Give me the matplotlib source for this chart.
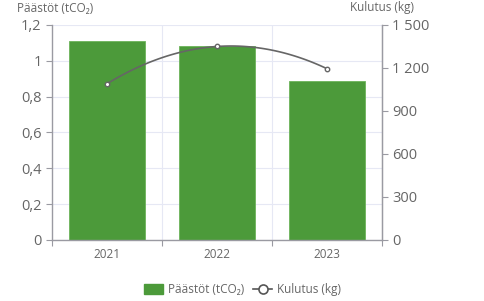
import numpy as np
import matplotlib.pyplot as plt
from matplotlib.lines import Line2D
from matplotlib.patches import Patch

plt.rcParams['font.family'] = ['Open Sans', 'DejaVu Sans']

years = ['2021', '2022', '2023']
emissions = [1.11, 1.08, 0.89]       # tCO2
consumption = [1090, 1350, 1195]     # kg

left_ticks = [0, 0.2, 0.4, 0.6, 0.8, 1.0, 1.2]
left_labels = ['0', '0,2', '0,4', '0,6', '0,8', '1', '1,2']
right_ticks = [0, 300, 600, 900, 1200, 1500]
right_labels = ['0', '300', '600', '900', '1 200', '1 500']

green = '#4c9a3a'
axis_col = '#9a9aa2'
grid_col = '#e6e8f4'
txt = '#666666'

fig = plt.figure(figsize=(4.85, 3.01), dpi=100)
ax = fig.add_axes([0.1072, 0.2027, 0.6804, 0.7143])
x = np.arange(len(years))

ax.bar(x, emissions, width=0.69, color=green, edgecolor='#6cb35a', linewidth=0.6, zorder=2)
ax.set_xlim(-0.5, 2.5)
ax.set_ylim(0, 1.2)
ax.set_yticks(left_ticks)
ax.set_yticklabels(left_labels)
ax.set_xticks(x)
ax.set_xticklabels(years)
ax.tick_params(axis='x', length=0, labelsize=8.5, colors=txt, pad=6)
ax.tick_params(axis='y', length=4, labelsize=10.5, colors=txt, width=0.8)
ax.tick_params(axis='y', color=axis_col)
ax.set_xticks([-0.5, 0.5, 1.5, 2.5], minor=True)
ax.tick_params(axis='x', which='minor', length=4, color=axis_col, width=0.8)
ax.grid(axis='y', color=grid_col, linewidth=0.8, zorder=0)
for b in [0.5, 1.5]:
    ax.axvline(b, color=grid_col, linewidth=0.8, zorder=0)
ax.spines['top'].set_visible(False)
for s in ['left', 'bottom', 'right']:
    ax.spines[s].set_color(axis_col)
    ax.spines[s].set_linewidth(1.0)

ax2 = ax.twinx()
ax2.set_ylim(0, 1500)
ax2.set_yticks(right_ticks)
ax2.set_yticklabels(right_labels)
ax2.tick_params(axis='y', length=4, labelsize=10.5, colors=txt, color=axis_col, width=0.8)
for s in ['top', 'left', 'bottom']:
    ax2.spines[s].set_visible(False)
ax2.spines['right'].set_color(axis_col)

# smooth curve through the points
coef = np.polyfit(x, consumption, 2)
xs = np.linspace(0, 2, 100)
ax2.plot(xs, np.polyval(coef, xs), color='#666666', linewidth=1.2, zorder=3)
ax2.plot(x, consumption, linestyle='none', marker='o', markersize=3.2,
         markerfacecolor='white', markeredgecolor='#666666', markeredgewidth=1.0, zorder=4)

fig.text(0.035, 0.973, 'Päästöt (tCO₂)', fontsize=8.5, color=txt, ha='left', va='center')
fig.text(0.788, 0.976, 'Kulutus (kg)', fontsize=8.5, color=txt, ha='center', va='center')

handles = [Patch(facecolor=green, edgecolor=green),
           Line2D([0], [0], color='#555555', linewidth=1.2, marker='o', markersize=6.5,
                  markerfacecolor='white', markeredgewidth=1.2)]
fig.legend(handles, ['Päästöt (tCO₂)', 'Kulutus (kg)'], loc='center', ncol=2,
           bbox_to_anchor=(0.5, 0.037), frameon=False, fontsize=8.5, labelcolor=txt,
           handlelength=1.6, handleheight=0.9, handletextpad=0.4, columnspacing=0.8)

fig.savefig('out.png', dpi=100)
